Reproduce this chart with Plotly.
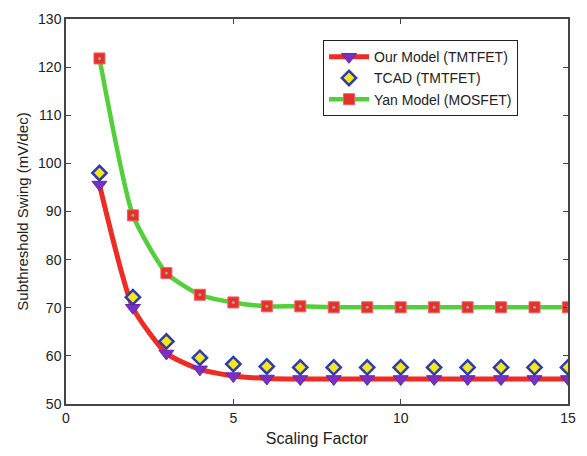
import plotly.graph_objects as go

# Scaling factor (x axis)
scaling = list(range(1, 16))

# Subthreshold swing values (mV/dec)
our_model = [95.6, 70.0, 60.5, 57.2, 55.8, 55.3, 55.2, 55.2, 55.2, 55.2, 55.2, 55.2, 55.2, 55.2, 55.2]
tcad = [98.0, 72.2, 63.0, 59.6, 58.3, 57.8, 57.6, 57.6, 57.6, 57.6, 57.6, 57.6, 57.6, 57.6, 57.6]
yan_model = [121.8, 89.2, 77.2, 72.7, 71.1, 70.3, 70.3, 70.1, 70.1, 70.1, 70.1, 70.1, 70.1, 70.1, 70.1]

x_ticks = [0, 5, 10, 15]
y_ticks = [50, 60, 70, 80, 90, 100, 110, 120, 130]

font = "Liberation Sans, Arial, sans-serif"

fig = go.Figure()

fig.add_trace(go.Scatter(
    x=scaling, y=our_model, name="Our Model (TMTFET)",
    mode="lines+markers",
    line=dict(color="#ee2b24", width=5, shape="spline", smoothing=0.55),
    marker=dict(symbol="triangle-down", size=13, color="#7a2fc0",
                line=dict(color="#6a22b0", width=1)),
))
fig.add_trace(go.Scatter(
    x=scaling, y=tcad, name="TCAD (TMTFET)",
    mode="markers",
    marker=dict(symbol="diamond", size=11, color="#f5e61e",
                line=dict(color="#2a3cb0", width=2.5)),
))
fig.add_trace(go.Scatter(
    x=scaling, y=yan_model, name="Yan Model (MOSFET)",
    mode="lines+markers",
    line=dict(color="#52d03a", width=4.5, shape="spline", smoothing=0.55),
    marker=dict(symbol="square", size=11, color="#e8302a",
                line=dict(color="#f06060", width=1)),
))
# small centre dots on the square markers
fig.add_trace(go.Scatter(
    x=scaling, y=yan_model, mode="markers", showlegend=False, hoverinfo="skip",
    marker=dict(symbol="circle", size=3, color="#9aa8a8"),
))

axis_common = dict(
    showgrid=False, zeroline=False, showline=True, linecolor="#444",
    linewidth=1.5, mirror="ticks", ticks="inside", ticklen=5,
    tickcolor="#444", tickfont=dict(size=14, color="#222", family=font),
)

fig.update_xaxes(range=[0, 15], tickvals=x_ticks,
                 title=dict(text="Scaling Factor", font=dict(size=16, color="#222", family=font),
                            standoff=8),
                 **axis_common)
fig.update_yaxes(range=[50, 130], tickvals=y_ticks,
                 title=dict(text="Subthreshold Swing (mV/dec)",
                            font=dict(size=15, color="#222", family=font), standoff=6),
                 **axis_common)

fig.update_layout(
    width=587, height=456,
    margin=dict(l=66, r=11, t=13, b=49),
    paper_bgcolor="white", plot_bgcolor="white",
    font=dict(family=font, color="#222"),
    legend=dict(x=0.512, y=0.945, xanchor="left", yanchor="top",
                bgcolor="white", bordercolor="#222", borderwidth=1,
                font=dict(size=14, family=font, color="#222"),
                tracegroupgap=0, itemwidth=40),
)

fig.write_html("out.html")
